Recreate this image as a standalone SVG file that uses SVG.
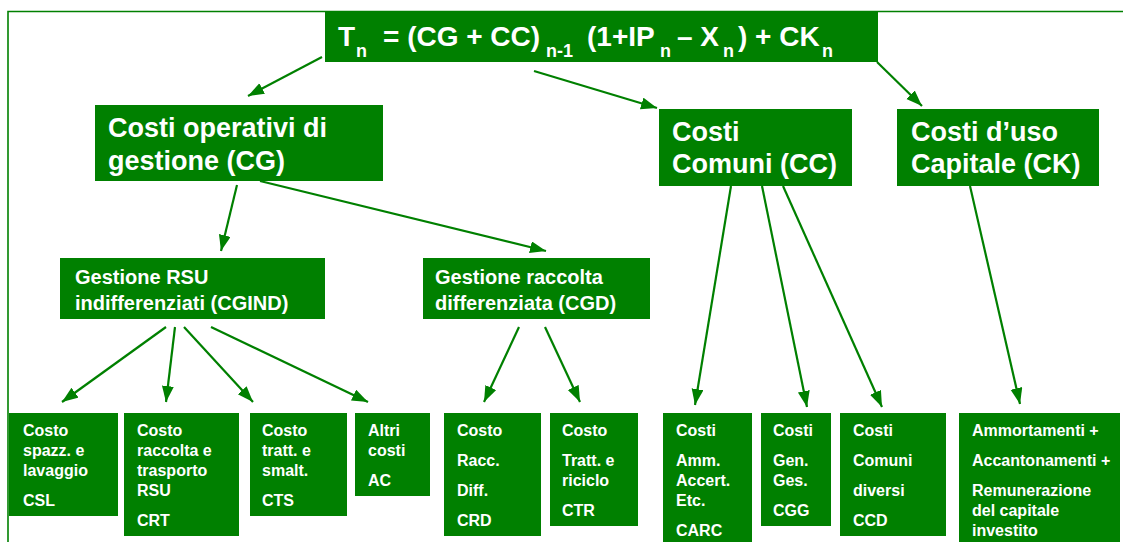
<svg xmlns="http://www.w3.org/2000/svg" width="1123" height="542" viewBox="0 0 1123 542">
<style>
.box{fill:#008000}
.t{font-family:"Liberation Sans",Arial,sans-serif;font-weight:bold;fill:#ffffff}
.f{font-size:28px}
.s{font-size:18px}
.l{font-size:27px}
.m{font-size:20px}
.n{font-size:16px}
.c{stroke:#008000;stroke-width:2.2;fill:none;marker-end:url(#ah)}
</style>
<defs>
<marker id="ah" markerUnits="userSpaceOnUse" markerWidth="18" markerHeight="14" refX="16" refY="6" orient="auto">
<path d="M0,0 L16,6 L0,12 z" fill="#008000"/>
</marker>
</defs>
<rect width="1123" height="542" fill="#ffffff"/>
<path d="M1123,11.5 H8 V542" fill="none" stroke="#008000" stroke-width="1.6"/>
<g id="connectors">
<line class="c" x1="322" y1="57" x2="248" y2="96"/>
<line class="c" x1="534" y1="71" x2="657" y2="108"/>
<line class="c" x1="877" y1="62" x2="922" y2="106"/>
<line class="c" x1="237" y1="185" x2="221" y2="251"/>
<line class="c" x1="260" y1="181" x2="546" y2="251"/>
<line class="c" x1="166" y1="327" x2="62" y2="402"/>
<line class="c" x1="175" y1="327" x2="166" y2="402"/>
<line class="c" x1="184" y1="327" x2="253" y2="402"/>
<line class="c" x1="211" y1="327" x2="368" y2="402"/>
<line class="c" x1="519" y1="327" x2="484" y2="402"/>
<line class="c" x1="545" y1="327" x2="580" y2="402"/>
<line class="c" x1="731" y1="186" x2="695" y2="405"/>
<line class="c" x1="762" y1="186" x2="807" y2="407"/>
<line class="c" x1="783" y1="186" x2="882" y2="407"/>
<line class="c" x1="970" y1="186" x2="1020" y2="404"/>
</g>
<g id="tn">
<rect class="box" x="325" y="12" width="553" height="50"/>
<text class="t f" x="338" y="46">T</text>
<text class="t s" x="356" y="57">n</text>
<text class="t f" x="383" y="46">= (CG + CC)</text>
<text class="t s" x="546" y="57">n-1</text>
<text class="t f" x="587" y="46">(1+IP</text>
<text class="t s" x="660" y="57">n</text>
<text class="t f" x="677" y="46">– X</text>
<text class="t s" x="723" y="57">n</text>
<text class="t f" x="738" y="46">) + CK</text>
<text class="t s" x="822" y="57">n</text>
</g>
<g id="cg">
<rect class="box" x="95" y="105" width="288" height="76"/>
<text class="t l" x="108" y="137">Costi operativi di</text>
<text class="t l" x="108" y="170">gestione (CG)</text>
</g>
<g id="cc">
<rect class="box" x="659" y="109" width="193" height="77"/>
<text class="t l" x="672" y="141">Costi</text>
<text class="t l" x="672" y="173">Comuni (CC)</text>
</g>
<g id="ck">
<rect class="box" x="897" y="109" width="202" height="77"/>
<text class="t l" x="911" y="141">Costi d’uso</text>
<text class="t l" x="911" y="173">Capitale (CK)</text>
</g>
<g id="cgind">
<rect class="box" x="60" y="258" width="265" height="61"/>
<text class="t m" x="75" y="284">Gestione RSU</text>
<text class="t m" x="75" y="310">indifferenziati (CGIND)</text>
</g>
<g id="cgd">
<rect class="box" x="423" y="258" width="227" height="61"/>
<text class="t m" x="435" y="284">Gestione raccolta</text>
<text class="t m" x="435" y="310">differenziata (CGD)</text>
</g>
<g id="csl">
<rect class="box" x="9" y="413" width="109" height="103"/>
<text class="t n" x="23" y="436">Costo</text>
<text class="t n" x="23" y="456">spazz. e</text>
<text class="t n" x="23" y="476">lavaggio</text>
<text class="t n" x="23" y="506">CSL</text>
</g>
<g id="crt">
<rect class="box" x="124" y="413" width="115" height="123"/>
<text class="t n" x="137" y="436">Costo</text>
<text class="t n" x="137" y="456">raccolta e</text>
<text class="t n" x="137" y="476">trasporto</text>
<text class="t n" x="137" y="496">RSU</text>
<text class="t n" x="137" y="526">CRT</text>
</g>
<g id="cts">
<rect class="box" x="250" y="413" width="97" height="103"/>
<text class="t n" x="262" y="436">Costo</text>
<text class="t n" x="262" y="456">tratt. e</text>
<text class="t n" x="262" y="476">smalt.</text>
<text class="t n" x="262" y="506">CTS</text>
</g>
<g id="ac">
<rect class="box" x="355" y="413" width="75" height="83"/>
<text class="t n" x="368" y="436">Altri</text>
<text class="t n" x="368" y="456">costi</text>
<text class="t n" x="368" y="486">AC</text>
</g>
<g id="crd">
<rect class="box" x="444" y="413" width="97" height="123"/>
<text class="t n" x="457" y="436">Costo</text>
<text class="t n" x="457" y="466">Racc.</text>
<text class="t n" x="457" y="496">Diff.</text>
<text class="t n" x="457" y="526">CRD</text>
</g>
<g id="ctr">
<rect class="box" x="550" y="413" width="88" height="113"/>
<text class="t n" x="562" y="436">Costo</text>
<text class="t n" x="562" y="466">Tratt. e</text>
<text class="t n" x="562" y="486">riciclo</text>
<text class="t n" x="562" y="516">CTR</text>
</g>
<g id="carc">
<rect class="box" x="663" y="413" width="89" height="129"/>
<text class="t n" x="676" y="436">Costi</text>
<text class="t n" x="676" y="466">Amm.</text>
<text class="t n" x="676" y="486">Accert.</text>
<text class="t n" x="676" y="506">Etc.</text>
<text class="t n" x="676" y="536">CARC</text>
</g>
<g id="cgg">
<rect class="box" x="761" y="413" width="70" height="113"/>
<text class="t n" x="773" y="436">Costi</text>
<text class="t n" x="773" y="466">Gen.</text>
<text class="t n" x="773" y="486">Ges.</text>
<text class="t n" x="773" y="516">CGG</text>
</g>
<g id="ccd">
<rect class="box" x="840" y="413" width="106" height="123"/>
<text class="t n" x="853" y="436">Costi</text>
<text class="t n" x="853" y="466">Comuni</text>
<text class="t n" x="853" y="496">diversi</text>
<text class="t n" x="853" y="526">CCD</text>
</g>
<g id="ckl">
<rect class="box" x="959" y="413" width="161" height="129"/>
<text class="t n" x="972" y="436">Ammortamenti +</text>
<text class="t n" x="972" y="466">Accantonamenti +</text>
<text class="t n" x="972" y="496">Remunerazione</text>
<text class="t n" x="972" y="516">del capitale</text>
<text class="t n" x="972" y="536">investito</text>
</g>
</svg>
